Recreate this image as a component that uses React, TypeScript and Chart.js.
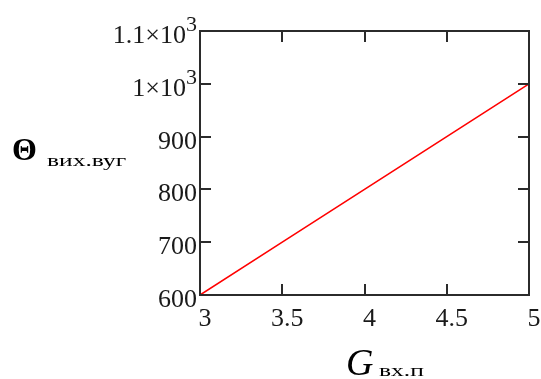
import React, { useEffect, useRef } from "react";
import { Chart, registerables } from "chart.js";

Chart.register(...registerables);

const xValues = [3, 3.5, 4, 4.5, 5];
const yValues = [600, 700, 800, 900, 1000];
const xTicks = [3, 3.5, 4, 4.5, 5];
const xTickLabels = ["3", "3.5", "4", "4.5", "5"];
const yTicks = [600, 700, 800, 900, 1000, 1100];
const yTickLabels: [string, string][] = [
  ["600", ""],
  ["700", ""],
  ["800", ""],
  ["900", ""],
  ["1\u00d710", "3"],
  ["1.1\u00d710", "3"],
];
const xTitleMain = "G";
const xTitleSub = "вх.п";
const yTitleMain = "Θ";
const yTitleSub = "вих.вуг";

const FONT = '"Liberation Serif", "Times New Roman", serif';

const mathcadPlugin = {
  id: "mathcadFrame",
  afterDraw(chart: any) {
    const ctx = chart.ctx as CanvasRenderingContext2D;
    const { left, right, top, bottom } = chart.chartArea;
    const xs = chart.scales.x;
    const ys = chart.scales.y;
    ctx.save();
    // frame
    ctx.strokeStyle = "#2b2b2b";
    ctx.lineWidth = 2;
    ctx.strokeRect(left, top, right - left, bottom - top);
    // inward ticks
    const tl = 11;
    ctx.beginPath();
    xTicks.forEach((v) => {
      if (v === xs.min || v === xs.max) return;
      const px = Math.round(xs.getPixelForValue(v));
      ctx.moveTo(px, bottom);
      ctx.lineTo(px, bottom - tl);
      ctx.moveTo(px, top);
      ctx.lineTo(px, top + tl);
    });
    yTicks.forEach((v) => {
      if (v === ys.min || v === ys.max) return;
      const py = Math.round(ys.getPixelForValue(v));
      ctx.moveTo(left, py);
      ctx.lineTo(left + tl, py);
      ctx.moveTo(right, py);
      ctx.lineTo(right - tl, py);
    });
    ctx.stroke();

    // tick labels
    ctx.fillStyle = "#1a1a1a";
    ctx.textBaseline = "alphabetic";
    ctx.font = `26px ${FONT}`;
    ctx.textAlign = "center";
    xTicks.forEach((v, i) => {
      const px = xs.getPixelForValue(v);
      ctx.fillText(xTickLabels[i], px + 5, bottom + 31);
    });
    yTicks.forEach((v, i) => {
      const py = ys.getPixelForValue(v);
      const [main, sup] = yTickLabels[i];
      const rx = left - 3;
      let supW = 0;
      if (sup) {
        ctx.font = `22px ${FONT}`;
        supW = ctx.measureText(sup).width;
        ctx.textAlign = "right";
        ctx.fillText(sup, rx, py);
      }
      ctx.font = `26px ${FONT}`;
      ctx.textAlign = "right";
      ctx.fillText(main, rx - supW, py + 12);
    });

    // axis titles
    ctx.fillStyle = "#000";
    ctx.textAlign = "left";
    ctx.font = `bold 32px ${FONT}`;
    ctx.fillText(yTitleMain, 12, 160);
    ctx.save();
    ctx.translate(47, 166);
    ctx.scale(1.5, 1);
    ctx.font = `17px ${FONT}`;
    ctx.fillText(yTitleSub, 0, 0);
    ctx.restore();

    ctx.font = `italic 38px ${FONT}`;
    ctx.fillText(xTitleMain, 346, 375);
    ctx.save();
    ctx.translate(379, 376);
    ctx.scale(1.5, 1);
    ctx.font = `17px ${FONT}`;
    ctx.fillText(xTitleSub, 0, 0);
    ctx.restore();

    ctx.restore();
  },
};

export default function App() {
  const ref = useRef<HTMLCanvasElement | null>(null);
  useEffect(() => {
    if (!ref.current) return;
    const chart = new Chart(ref.current, {
      type: "line",
      data: {
        datasets: [
          {
            data: xValues.map((x, i) => ({ x, y: yValues[i] })),
            borderColor: "#ff0000",
            borderWidth: 1.6,
            pointRadius: 0,
            tension: 0,
            fill: false,
          },
        ],
      },
      options: {
        animation: false,
        responsive: false,
        devicePixelRatio: 1,
        layout: { padding: { left: 0, right: 12, top: 31, bottom: 0 } },
        plugins: { legend: { display: false }, tooltip: { enabled: false } },
        scales: {
          x: {
            type: "linear",
            min: 3,
            max: 5,
            grid: { display: false },
            border: { display: false },
            ticks: { display: false },
            afterFit: (s: any) => {
              s.height = 84;
            },
          },
          y: {
            type: "linear",
            min: 600,
            max: 1100,
            grid: { display: false },
            border: { display: false },
            ticks: { display: false },
            afterFit: (s: any) => {
              s.width = 200;
            },
          },
        },
      },
      plugins: [mathcadPlugin],
    });
    return () => chart.destroy();
  }, []);
  return (
    <div style={{ position: "absolute", left: 0, top: 0, width: 541, height: 379, background: "#fff" }}>
      <canvas ref={ref} width={541} height={379} />
    </div>
  );
}
